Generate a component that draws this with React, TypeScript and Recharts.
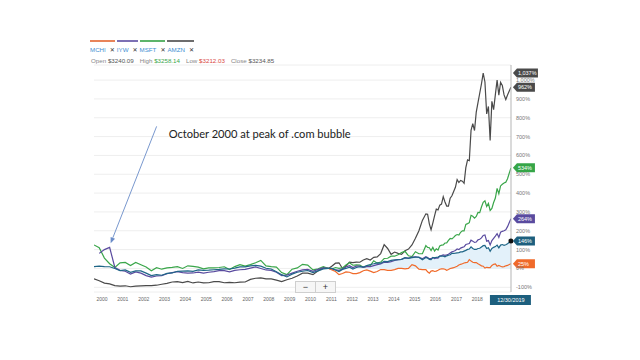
import React from 'react';
import { ComposedChart, Line, Area, XAxis, YAxis, CartesianGrid, ReferenceDot } from 'recharts';

// quarterly to 2010, every two months to 2015, monthly after that
const dates = [
  '2000-01', '2000-04', '2000-07', '2000-10',
  '2001-01', '2001-04', '2001-07', '2001-10',
  '2002-01', '2002-04', '2002-07', '2002-10',
  '2003-01', '2003-04', '2003-07', '2003-10',
  '2004-01', '2004-04', '2004-07', '2004-10',
  '2005-01', '2005-04', '2005-07', '2005-10',
  '2006-01', '2006-04', '2006-07', '2006-10',
  '2007-01', '2007-04', '2007-07', '2007-10',
  '2008-01', '2008-04', '2008-07', '2008-10',
  '2009-01', '2009-04', '2009-07', '2009-10',
  '2010-01', '2010-04', '2010-07', '2010-10',
  '2011-01', '2011-04', '2011-06', '2011-08', '2011-10', '2011-12',
  '2012-02', '2012-04', '2012-06', '2012-08', '2012-10', '2012-12',
  '2013-02', '2013-04', '2013-06', '2013-08', '2013-10', '2013-12',
  '2014-02', '2014-04', '2014-06', '2014-08', '2014-10', '2014-12',
  '2015-02', '2015-04', '2015-06', '2015-08', '2015-10', '2015-12',
  '2016-01', '2016-02', '2016-03', '2016-04', '2016-05', '2016-06',
  '2016-07', '2016-08', '2016-09', '2016-10', '2016-11', '2016-12',
  '2017-01', '2017-02', '2017-03', '2017-04', '2017-05', '2017-06',
  '2017-07', '2017-08', '2017-09', '2017-10', '2017-11', '2017-12',
  '2018-01', '2018-02', '2018-03', '2018-04', '2018-05', '2018-06',
  '2018-07', '2018-08', '2018-09', '2018-10', '2018-11', '2018-12',
  '2019-01', '2019-02', '2019-03', '2019-04', '2019-05', '2019-06',
  '2019-07', '2019-08', '2019-09', '2019-10', '2019-11', '2019-12-30',
];

// % change, teal index line
const spx = [
  10, 12, 10, 9,
  0, -12, -8, -21,
  -13, -13, -25, -38,
  -33, -36, -26, -24,
  -15, -14, -13, -15,
  -8, -10, -9, -7,
  -5, -2, -3, 2,
  8, 8, 14, 16,
  12, 1, -3, -18,
  -33, -45, -30, -20,
  -15, -11, -22, -13,
  -2, 0, 0, -8, -16, -5,
  0, 7, -3, 5, 9, 8,
  15, 21, 25, 30, 28, 37,
  36, 43, 46, 47, 48, 57,
  54, 57, 60, 60, 46, 58,
  55, 48, 47, 57, 57, 59, 60, 65, 65, 65, 62, 67,
  70, 73, 80, 80, 81, 83, 84, 88, 88, 92, 96, 101,
  103, 115, 106, 101, 101, 106, 107, 114, 121, 122, 106, 110,
  91, 106, 112, 116, 124, 109, 124, 127, 123, 126, 131, 146,
];

const amzn = [
  -55, -65, -78, -82,
  -91, -94, -92, -97,
  -94, -92, -91, -91,
  -89, -84, -79, -72,
  -70, -75, -69, -77,
  -72, -77, -76, -70,
  -70, -76, -74, -76,
  -73, -72, -58, -52,
  -50, -55, -55, -62,
  -70, -60, -52, -40,
  -25, -25, -33, -12,
  4, 0, 13, 28, 30, 0,
  11, 33, 31, 34, 33, 45,
  52, 45, 59, 61, 79, 126,
  106, 75, 87, 80, 75, 94,
  103, 125, 160, 200, 255, 290,
  288, 237, 205, 241, 279, 315, 311, 336, 342, 381, 353, 331,
  331, 373, 386, 409, 431, 472, 456, 467, 463, 452, 535, 576,
  572, 733, 769, 732, 830, 880, 930, 980, 1037, 990, 820, 860,
  680, 887, 843, 923, 1000, 920, 988, 972, 921, 897, 921, 962,
];

const msft = [
  125, 110, 55, 25,
  5, 30, 32, 16,
  32, 20, 8, -12,
  4, -4, 3, 6,
  10, 0, 14, 11,
  7, -2, 3, 3,
  5, 9, -6, 10,
  20, 12, 20, 30,
  43, 14, 10, 7,
  -22, -33, -4, 3,
  22, 18, -8, -2,
  10, 0, -2, 5, 0, 3,
  18, 30, 17, 19, 18, 6,
  12, 15, 41, 28, 34, 53,
  54, 65, 65, 73, 85, 91,
  67, 63, 89, 78, 78, 121,
  112, 110, 95, 112, 92, 104, 98, 120, 124, 125, 135, 136,
  149, 159, 157, 165, 175, 180, 177, 192, 200, 199, 234, 238,
  243, 282, 277, 267, 276, 297, 296, 326, 351, 359, 329, 345,
  308, 319, 350, 374, 425, 397, 438, 447, 454, 458, 476, 534,
];

const iywStart = '2000-04';
const iyw = [
  80, 100, 112,
  5, -10, -15, -30,
  -18, -25, -38, -46,
  -40, -38, -28, -22,
  -17, -22, -25, -24,
  -20, -25, -20, -17,
  -12, -12, -18, -10,
  -7, -5, 2, 8,
  0, -8, -10, -20,
  -38, -35, -25, -15,
  -8, -5, -15, -5,
  3, 0, -3, -8, -10, -3,
  8, 15, 5, 12, 12, 6,
  10, 10, 15, 20, 24, 33,
  32, 36, 42, 47, 48, 56,
  55, 60, 62, 58, 52, 62,
  58, 52, 52, 58, 52, 56, 55, 66, 68, 72, 70, 72,
  75, 82, 88, 91, 95, 103, 100, 108, 112, 115, 127, 130,
  132, 150, 145, 138, 140, 152, 155, 162, 175, 178, 145, 148,
  125, 148, 160, 172, 185, 165, 192, 197, 200, 205, 222, 264,
];

const mchiStart = '2011-04';
const mchi = [
  0, -8, -16, -33, -27,
  -18, -20, -27, -27, -22, -12,
  -8, -14, -22, -16, -6, -6,
  -10, -10, -6, 0, 0, -2,
  0, 20, 14, -4, -6, -6,
  -18, -25, -14, -12, -16, -14, -10, -4, -2, -2, -4, -10,
  -6, 0, 2, 4, 8, 12, 18, 22, 25, 29, 31, 33,
  47, 39, 33, 31, 31, 25, 20, 14, 12, 2, 6, 4,
  4, 16, 22, 24, 12, 16, 12, 8, 10, 14, 16, 25,
];

const yearTicks = [2000, 2001, 2002, 2003, 2004, 2005, 2006, 2007, 2008, 2009, 2010, 2011, 2012, 2013, 2014, 2015, 2016, 2017, 2018];
const pctTicks = [-100, 0, 100, 200, 300, 400, 500, 600, 700, 800, 900, 1000];

const colors = {
  mchi: '#f06a2a',
  iyw: '#5a4b9f',
  msft: '#3aa64a',
  amzn: '#4a4a4a',
  spx: '#1f6687',
};

const legendItems = [
  { name: 'MCHI', color: '#e8845a' },
  { name: 'IYW', color: '#7c70b4' },
  { name: 'MSFT', color: '#5db46a' },
  { name: 'AMZN', color: '#6d6d6d' },
];

const quote = [
  { label: 'Open', value: '$3240.09', color: '#555' },
  { label: 'High', value: '$3258.14', color: '#3aa64a' },
  { label: 'Low', value: '$3212.03', color: '#d9473f' },
  { label: 'Close', value: '$3234.85', color: '#555' },
];

const lastDateLabel = '12/30/2019';
const noteText = 'October 2000 at peak of .com bubble';

const FONT = '"Liberation Sans", Arial, sans-serif';

const toYear = (d: string) => {
  const [y, m, day] = d.split('-').map(Number);
  return y + (m - 1) / 12 + ((day || 1) - 1) / 365;
};

const iywOffset = dates.indexOf(iywStart);
const mchiOffset = dates.indexOf(mchiStart);

const data = dates.map((d, i) => ({
  t: toYear(d),
  spx: spx[i],
  spxFill: i >= mchiOffset ? spx[i] : null,
  amzn: amzn[i],
  msft: msft[i],
  iyw: i >= iywOffset ? iyw[i - iywOffset] : null,
  mchi: i >= mchiOffset ? mchi[i - mchiOffset] : null,
}));

const last = data[data.length - 1];
const bubble = data
  .filter(d => d.t < 2001 && d.iyw != null)
  .reduce((a, b) => ((b.iyw as number) > (a.iyw as number) ? b : a));

const fmtPct = (v: number) => `${v.toLocaleString('en-US')}%`;

const tags = [
  { value: Math.max(...amzn), color: '#4a4a4a' },
  { value: last.amzn, color: '#4a4a4a' },
  { value: last.msft, color: '#35a547' },
  { value: last.iyw as number, color: '#5a4b9f' },
  { value: last.spx, color: '#1d5f7e' },
  { value: last.mchi as number, color: '#f06a2a' },
];

const makeTag = (color: string, text: string) => (props: any) => {
  const { cx, cy } = props;
  if (cx == null || cy == null) return <g />;
  const x = cx + 2;
  const w = text.length > 4 ? 25 : 22;
  return (
    <g>
      <path d={`M${x},${cy} L${x + 4},${cy - 4.5} H${x + w} V${cy + 4.5} H${x + 4} Z`} fill={color} />
      <text x={x + 5} y={cy} dy="0.36em" fill="#fff" fontSize={5.5} fontFamily={FONT}>{text}</text>
    </g>
  );
};

const DateTag = (props: any) => {
  const { cx, cy } = props;
  if (cx == null || cy == null) return <g />;
  return (
    <g>
      <rect x={cx - 21} y={cy + 3} width={41} height={10} fill="#1d5f7e" />
      <text x={cx} y={cy + 8} dy="0.36em" textAnchor="middle" fill="#fff" fontSize={5.5} fontFamily={FONT}>{lastDateLabel}</text>
    </g>
  );
};

const Note = (props: any) => {
  const { cx, cy } = props;
  if (cx == null || cy == null) return <g />;
  const tip = { x: cx + 1, y: cy - 4 };
  const start = { x: cx + 47, y: cy - 121 };
  const len = Math.hypot(start.x - tip.x, start.y - tip.y);
  const ux = (start.x - tip.x) / len;
  const uy = (start.y - tip.y) / len;
  const bx = tip.x + ux * 6;
  const by = tip.y + uy * 6;
  const px = -uy * 2.4;
  const py = ux * 2.4;
  return (
    <g>
      <line x1={start.x} y1={start.y} x2={bx} y2={by} stroke="#6a8cc8" strokeWidth={0.9} />
      <path d={`M${tip.x},${tip.y} L${bx + px},${by + py} L${bx - px},${by - py} Z`} fill="#6a8cc8" />
      <text x={cx + 59} y={cy - 113} dy="0.36em" fontSize={11.1} fill="#222" fontFamily="Lato, 'Open Sans', sans-serif">{noteText}</text>
    </g>
  );
};

const YearTick = (props: any) => {
  const { x, y, payload } = props;
  return (
    <text x={x + 8} y={y} dy="0.71em" textAnchor="middle" fontSize={5} fill="#666" fontFamily={FONT}>
      {payload.value}
    </text>
  );
};

export default function App() {
  return (
    <div style={{ position: 'absolute', left: 0, top: 0, width: 640, height: 360, background: '#fff', fontFamily: FONT }}>
      <div style={{ position: 'absolute', left: 90, top: 40, display: 'flex', gap: 2 }}>
        {legendItems.map(it => (
          <div key={it.name} style={{ borderTop: `2px solid ${it.color}`, paddingTop: 4, display: 'flex', gap: 4, lineHeight: '8px', fontSize: 6.2 }}>
            <span style={{ color: '#3f8fd2' }}>{it.name}</span>
            <span style={{ color: '#333', fontSize: 6, fontWeight: 'bold', fontFamily: '"DejaVu Sans", sans-serif' }}>✕</span>
          </div>
        ))}
      </div>
      <div style={{ position: 'absolute', left: 91, top: 57, fontSize: 6.2, lineHeight: '8px', color: '#888', whiteSpace: 'nowrap' }}>
        {quote.map(q => (
          <span key={q.label} style={{ marginRight: 6 }}>
            {q.label} <span style={{ color: q.color }}>{q.value}</span>
          </span>
        ))}
      </div>

      <ComposedChart width={640} height={360} data={data} margin={{ top: 65, right: 89, bottom: 48, left: 94 }}>
        <CartesianGrid horizontal vertical={false} stroke="#eeeeee" />
        <XAxis
          dataKey="t"
          type="number"
          domain={[2000, 2020]}
          ticks={yearTicks}
          interval={0}
          axisLine={false}
          tickLine={false}
          tickSize={3}
          tickMargin={2}
          height={20}
          tick={<YearTick />}
          allowDataOverflow
        />
        <YAxis
          orientation="right"
          type="number"
          domain={[-125, 1080]}
          ticks={pctTicks}
          interval={0}
          tickFormatter={fmtPct}
          axisLine={{ stroke: '#b5b5b5' }}
          tickLine={false}
          tickSize={3}
          tickMargin={2}
          width={40}
          tick={{ fontSize: 5.5, fill: '#777', fontFamily: FONT }}
          allowDataOverflow
        />
        <Area
          type="linear"
          dataKey="spxFill"
          baseValue={0}
          fill="#e3f1fa"
          fillOpacity={1}
          stroke="none"
          isAnimationActive={false}
        />
        <Line type="linear" dataKey="amzn" stroke={colors.amzn} strokeWidth={1.2} dot={false} isAnimationActive={false} />
        <Line type="linear" dataKey="msft" stroke={colors.msft} strokeWidth={1.2} dot={false} isAnimationActive={false} />
        <Line type="linear" dataKey="iyw" stroke={colors.iyw} strokeWidth={1.2} dot={false} isAnimationActive={false} />
        <Line type="linear" dataKey="mchi" stroke={colors.mchi} strokeWidth={1.2} dot={false} isAnimationActive={false} />
        <Line type="linear" dataKey="spx" stroke={colors.spx} strokeWidth={1.2} dot={false} isAnimationActive={false} />
        <ReferenceDot x={bubble.t} y={bubble.iyw as number} r={0} shape={Note} />
        <ReferenceDot x={last.t} y={last.spx} r={2.5} fill="#111" stroke="none" />
        {tags.map((tg, i) => (
          <ReferenceDot key={i} x={last.t} y={tg.value} r={0} shape={makeTag(tg.color, fmtPct(tg.value))} />
        ))}
        <ReferenceDot x={last.t} y={-125} r={0} shape={DateTag} />
      </ComposedChart>

      <div style={{ position: 'absolute', left: 295, top: 281, width: 41, height: 12, border: '1px solid #cfcfcf', background: '#f6f6f6', display: 'flex', boxSizing: 'border-box', color: '#333' }}>
        <div style={{ flex: 1, borderRight: '1px solid #cfcfcf', textAlign: 'center', fontSize: 9, lineHeight: '10px' }}>−</div>
        <div style={{ flex: 1, textAlign: 'center', fontSize: 9, lineHeight: '10px' }}>+</div>
      </div>
    </div>
  );
}
